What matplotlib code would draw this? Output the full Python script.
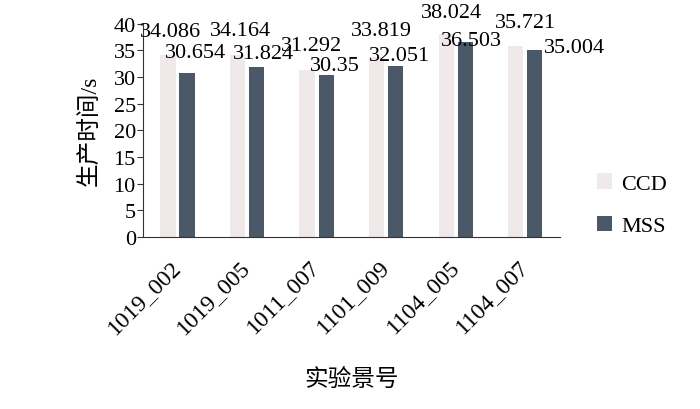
import numpy as np
import matplotlib
matplotlib.use('Agg')
import matplotlib.pyplot as plt

plt.rcParams['font.family'] = ['Liberation Serif', 'Noto Sans CJK SC', 'DejaVu Sans']

scenes = ['1019_002', '1019_005', '1011_007', '1101_009', '1104_005', '1104_007']
ccd = [34.086, 34.164, 31.292, 33.819, 38.024, 35.721]
mss = [30.654, 31.824, 30.35, 32.051, 36.503, 35.004]
ccd_text = ['34.086', '34.164', '31.292', '33.819', '38.024', '35.721']
mss_text = ['30.654', '31.824', '30.35', '32.051', '36.503', '35.004']

# label offsets in pixels from bar top (hand placed in the original)
ccd_off = [(2, 24), (3, 24), (4, 25), (5, 26), (5, 22), (10, 24)]
mss_off = [(8, 21), (7, 14), (9, 10), (4, 10), (6, 2), (40, 3)]

fig = plt.figure(figsize=(7, 4.1), dpi=100)
ax = fig.add_axes([0.204, 0.42, 0.596, 0.52])

x = np.arange(len(scenes))
w = 0.22
b1 = ax.bar(x - 0.137, ccd, w, color='#efe9e9', label='CCD')
b2 = ax.bar(x + 0.137, mss, w, color='#4a5868', label='MSS')

for bars, txt, off in [(b1, ccd_text, ccd_off), (b2, mss_text, mss_off)]:
    for r, t, (dx, dy) in zip(bars, txt, off):
        ax.annotate(t, (r.get_x() + r.get_width() / 2, r.get_height()),
                    xytext=(dx, dy), textcoords='offset pixels',
                    ha='center', va='center', fontsize=16, annotation_clip=False)

ax.set_xlim(-0.5, 5.5)
ax.set_ylim(0, 40)
ax.set_yticks(range(0, 41, 5))
ax.set_xticks(x)
ax.set_xticklabels(scenes, rotation=45, ha='right', va='center', rotation_mode='anchor')
ax.tick_params(axis='x', length=0, labelsize=17, pad=19)
ax.tick_params(axis='y', length=4, labelsize=16, pad=1, color='#333333')
for s in ['top', 'right']:
    ax.spines[s].set_visible(False)
for s in ['left', 'bottom']:
    ax.spines[s].set_color('#333333')

ax.set_ylabel('生产时间/s', fontsize=17, labelpad=9)
ax.set_xlabel('实验景号', fontsize=17, labelpad=22)

ax.legend(frameon=False, fontsize=16, loc='center left', bbox_to_anchor=(1.04, 0.15),
          handlelength=0.7, handleheight=0.7, handletextpad=0.4, labelspacing=1.0)

fig.savefig('out.png', dpi=100)
